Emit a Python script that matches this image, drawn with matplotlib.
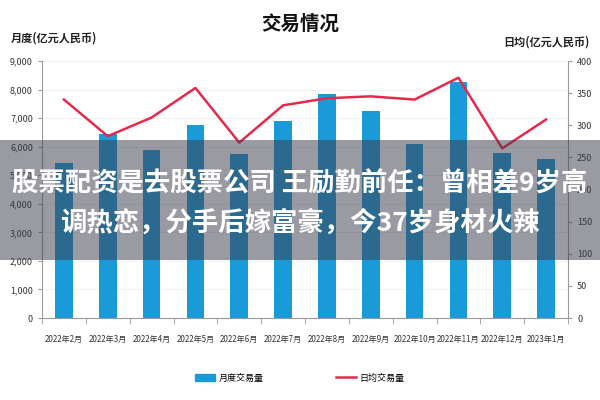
import matplotlib
matplotlib.use("Agg")
import matplotlib.pyplot as plt
from matplotlib.patches import Rectangle
from matplotlib.lines import Line2D
from matplotlib.ticker import FuncFormatter

plt.rcParams['font.family'] = ['Noto Sans CJK SC', 'DejaVu Sans']

months = ["2022年2月", "2022年3月", "2022年4月", "2022年5月", "2022年6月", "2022年7月",
          "2022年8月", "2022年9月", "2022年10月", "2022年11月", "2022年12月", "2023年1月"]
monthly = [5420, 6450, 5900, 6760, 5730, 6900, 7830, 7260, 6080, 8280, 5770, 5560]
daily = [340, 283, 312, 358, 273, 331, 342, 345, 340, 374, 264, 309]

title = "交易情况"
left_label = "月度(亿元人民币)"
right_label = "日均(亿元人民币)"
bar_name = "月度交易量"
line_name = "日均交易量"
overlay_lines = ["股票配资是去股票公司 王励勤前任：曾相差9岁高", "调热恋，分手后嫁富豪，今37岁身材火辣"]

bar_color = "#1a9ad6"
line_color = "#e62a4c"
spine_color = "#9a9a9a"

fig = plt.figure(figsize=(6, 4), dpi=100)
W, H = 600, 400
ax = fig.add_axes([42 / W, (H - 318) / H, 526 / W, 257 / H])
x = list(range(len(months)))
ax.bar(x, monthly, width=0.4, color=bar_color, zorder=2)
ax.set_xlim(-0.5, len(months) - 0.5)
ax.set_ylim(0, 9000)
ax.set_yticks(range(0, 9001, 1000))
ax.yaxis.set_major_formatter(FuncFormatter(lambda v, p: f"{int(v):,}"))
ax.set_xticks(x)
ax.set_xticklabels(months, fontsize=5.8, color="#333333")
ax.set_xticks([i + 0.5 for i in range(-1, len(months))], minor=True)
ax.tick_params(axis='x', which='major', length=0, pad=12)
ax.tick_params(axis='x', which='minor', length=4, color=spine_color, direction='out')
ax.tick_params(axis='y', labelsize=6.5, colors="#333333", length=3, color=spine_color)
ax.grid(axis='y', color="#eeeeee", linewidth=0.6, zorder=0)
for s in ['top', 'right']:
    ax.spines[s].set_visible(False)
for s in ['left', 'bottom']:
    ax.spines[s].set_color(spine_color)
    ax.spines[s].set_linewidth(0.8)

ax2 = ax.twinx()
ax2.plot(x, daily, color=line_color, linewidth=1.8, zorder=3)
ax2.set_ylim(0, 400)
ax2.set_yticks(range(0, 401, 50))
ax2.tick_params(axis='y', labelsize=6.5, colors="#333333", length=3, color=spine_color)
for s in ['top', 'left', 'bottom']:
    ax2.spines[s].set_visible(False)
ax2.spines['right'].set_color(spine_color)
ax2.spines['right'].set_linewidth(0.8)

fig.text(300 / W, 1 - 24 / H, title, ha='center', va='center', fontsize=14, fontweight='bold', color="#111111")
fig.text(11 / W, 1 - 38 / H, left_label, ha='left', va='center', fontsize=8, fontweight='bold', color="#222222")
fig.text(590 / W, 1 - 42 / H, right_label, ha='right', va='center', fontsize=8, fontweight='bold', color="#222222")

handles = [Rectangle((0, 0), 1, 1, color=bar_color), Line2D([0], [0], color=line_color, linewidth=1.8)]
fig.legend(handles, [bar_name, line_name], loc='center', bbox_to_anchor=(300 / W, 1 - 378 / H),
           ncol=2, frameon=False, fontsize=6.5, handlelength=2.2, handleheight=0.7,
           columnspacing=8, handletextpad=0.4)

# overlay band
fig.patches.append(Rectangle((0, 1 - 260 / H), 1, 120 / H, transform=fig.transFigure,
                             facecolor=(0.24, 0.24, 0.31), alpha=0.52, zorder=10))
fig.text(300 / W, 1 - 184 / H, overlay_lines[0], ha='center', va='center', fontsize=19,
         fontweight='bold', color='white', zorder=11)
fig.text(300 / W, 1 - 223 / H, overlay_lines[1], ha='center', va='center', fontsize=19,
         fontweight='bold', color='white', zorder=11)

fig.savefig("out.png", dpi=100)
